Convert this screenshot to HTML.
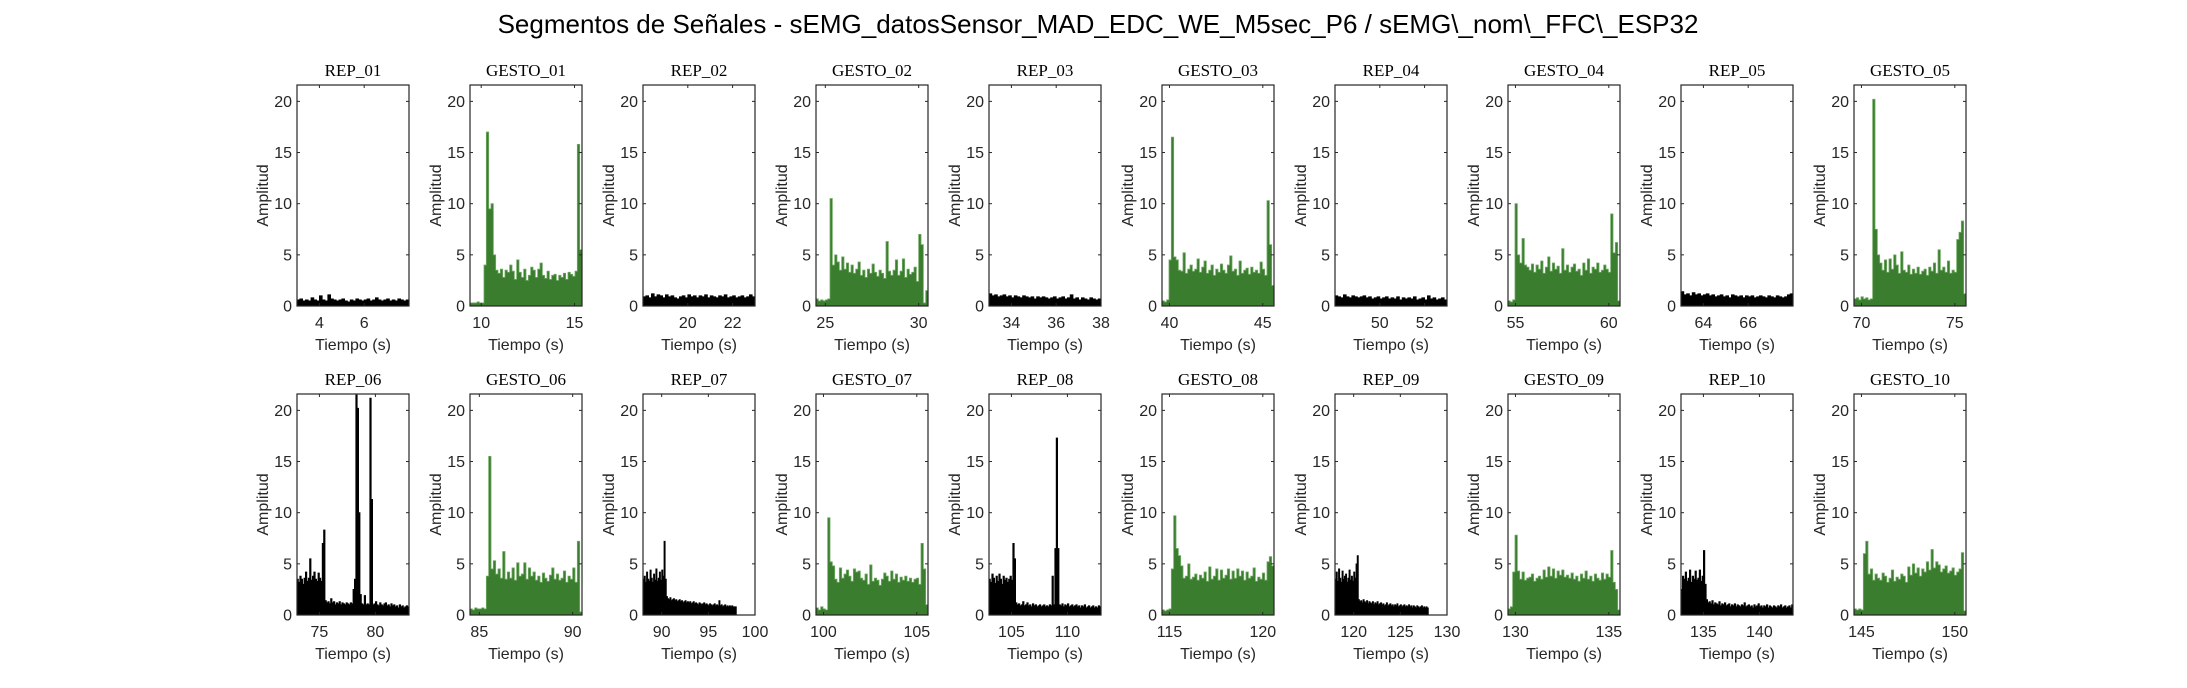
<!DOCTYPE html>
<html><head><meta charset="utf-8">
<style>
html,body{margin:0;padding:0;background:#fff;}
svg{display:block;font-family:"Liberation Sans",sans-serif;}
</style></head>
<body>
<svg id="chart" width="2187" height="688" viewBox="0 0 2187 688" xmlns="http://www.w3.org/2000/svg">
<rect width="2187" height="688" fill="#fff"/>
<text x="1098" y="33" font-size="26" text-anchor="middle" fill="#000">Segmentos de Señales - sEMG_datosSensor_MAD_EDC_WE_M5sec_P6 / sEMG\_nom\_FFC\_ESP32</text>
<g id="panels"></g>
</svg>
<script>
const titles = ["REP_01","GESTO_01","REP_02","GESTO_02","REP_03","GESTO_03","REP_04","GESTO_04","REP_05","GESTO_05",
"REP_06","GESTO_06","REP_07","GESTO_07","REP_08","GESTO_08","REP_09","GESTO_09","REP_10","GESTO_10"];
const xLimits = [[3,8],[9.4,15.4],[18,23],[24.5,30.5],[33,38],[39.6,45.6],[48,53],[54.6,60.6],[63,68],[69.6,75.6],
[73,83],[84.5,90.5],[88,100],[99.6,105.6],[103,113],[114.6,120.6],[118,130],[129.6,135.6],[133,143],[144.6,150.6]];
const dataSpans = [[3,8],[9.4,15.4],[18,23],[24.5,30.5],[33,38],[39.6,45.6],[48,53],[54.6,60.6],[63,68],[69.6,75.6],
[73,83],[84.5,90.5],[88,98],[99.6,105.6],[103,113],[114.6,120.6],[118,128],[129.6,135.6],[133,143],[144.6,150.6]];
const xTicks = [[4,6],[10,15],[20,22],[25,30],[34,36,38],[40,45],[50,52],[55,60],[64,66],[70,75],
[75,80],[85,90],[90,95,100],[100,105],[105,110],[115,120],[120,125,130],[130,135],[135,140],[145,150]];
const yTicks = [0,5,10,15,20];
const yMax = 21.6;

const rep01 = [0.6,0.7,0.5,0.6,0.5,0.8,0.6,0.5,1.0,0.6,0.5,1.1,0.7,0.6,0.5,0.6,0.7,0.5,0.4,0.6,0.5,0.7,0.6,0.5,0.6,0.7,0.5,0.6,0.8,0.6,0.5,0.6,0.7,0.5,0.6,0.5,0.7,0.6,0.5,0.6];
const gesto01 = [0.3,0.3,0.3,0.4,0.3,0.3,4,17,9.5,10,5,3.5,3.2,3.6,2.8,3.5,3.3,4,3.4,2.6,4.5,3.3,2.8,3.6,2.5,3,3.8,3.5,2.8,3.6,4.2,3,2.7,3.4,2.6,3,3.1,2.5,3,2.8,3.2,2.6,3.3,3.1,2.9,3.4,15.8,5.5];
const rep02 = [0.9,1.0,0.8,1.2,0.9,1.1,1.0,0.8,1.1,0.9,1.0,0.8,0.7,0.9,1.0,0.8,1.1,0.9,1.0,0.8,1.0,0.9,1.1,0.8,1.0,0.9,0.8,1.0,0.9,1.1,0.8,0.9,1.0,0.8,0.9,1.0,0.8,0.9,1.1,0.9];
const gesto02 = [0.7,0.5,0.6,0.5,0.6,0.7,10.5,4,5,4.3,3.5,4.8,3.6,4.2,3.3,4,3.2,3.6,4.3,3,3.5,2.8,3.6,3.2,4.1,3.3,2.9,3.5,3.2,2.7,6.3,3.4,3,3.5,4.5,3,3.4,4.6,2.8,3.6,3.1,3.3,3.8,2.4,7,6,0.3,1.5];
const rep03 = [1.2,1.0,1.1,0.9,1.0,1.1,0.9,1.0,0.8,1.0,0.9,0.8,1.0,0.9,0.8,0.9,0.7,0.9,0.8,0.9,0.8,0.7,0.8,0.9,0.7,0.8,0.9,0.7,0.8,1.1,0.7,0.8,0.6,0.8,0.7,0.6,0.8,0.7,0.6,0.7];
const gesto03 = [0.5,0.4,0.6,4.5,16.5,4.8,4.5,3.5,3.4,5.2,3.2,3.6,4,3.4,3.6,4.6,3.3,3.8,4.4,3.2,3.5,4,3,3.6,3.3,4.1,3.5,3.2,4,4.9,3.4,3.6,3,4.4,3.2,3.5,3.7,3.1,3.8,3.3,3.5,3.2,4.3,3.6,3,10.3,6,2];
const rep04 = [1.0,0.9,0.8,1.1,0.9,0.8,1.0,0.9,0.8,0.9,1.0,0.8,0.9,0.7,0.8,0.9,0.7,0.8,0.9,0.7,0.8,0.7,0.9,0.6,0.8,0.7,0.8,0.7,0.9,0.6,0.7,0.8,0.6,1.0,0.7,0.8,0.6,0.7,0.8,0.6];
const gesto04 = [0.5,0.4,0.6,10,5,4.2,6.6,4,3.8,3.5,4.1,3.3,4,3.6,4.4,3.2,3.8,4.8,3.4,4.2,3.6,3.9,3.2,5.6,3.5,4,3.3,3.8,4.1,3.4,3.6,3,4.2,3.5,4.6,3.2,3.8,3.6,4.2,3.3,3.5,4,3.6,3.3,9,5.2,6.2,0.5];
const rep05 = [1.4,1.1,1.2,1.0,1.3,1.1,1.2,1.0,1.1,1.2,1.0,1.1,0.9,1.0,1.1,0.9,1.0,0.8,1.1,1.0,0.9,1.0,0.8,1.0,0.9,1.0,0.8,0.9,1.0,0.9,0.8,1.0,0.9,0.8,1.0,0.9,0.8,0.9,1.1,1.2];
const gesto05 = [0.7,0.8,0.6,0.9,0.7,0.8,0.6,0.7,20.2,7.5,5,4.2,3.5,4.5,3.3,4.6,3.6,5,4,3.2,5.3,3.5,3.3,4,3.1,3.6,3.2,3.8,3.1,3.4,3.6,3,3.8,3.4,4.2,3.2,5.5,3.5,3.8,3.3,4.4,3.2,3.5,3.3,6.5,7.2,8.3,1.2];
const rep06 = [3.5,3.2,3.8,3.5,3,3.6,4.2,3.3,3.6,5.5,3.4,3.8,4.2,3.5,3.3,4.1,3.6,3.3,7,8.3,1.4,1.2,1.3,1.1,1.6,1.2,1.3,1.0,1.2,1.1,1.3,1.0,1.2,1.1,1.0,1.2,1.1,1.0,1.2,1.1,2.5,3.5,21.5,20.2,10,2,1.1,1.0,1.9,1.0,1.1,1.0,21.2,11.3,1.0,1.1,1.3,1.0,0.9,1.2,1.0,0.9,1.1,1.2,0.9,1.0,0.8,1.1,0.9,1.0,0.8,0.9,0.7,1.0,0.8,0.9,0.7,0.8,0.9,0.8];
const gesto06 = [0.6,0.5,0.7,0.6,0.6,0.7,0.6,3.8,15.5,4.5,5.3,4,4.5,3.6,6.2,3.5,4.2,3.6,4.6,3.4,5.1,3.8,4,5.1,3.5,4.6,3.8,4.2,3.4,3.8,3.2,4.1,3.6,3.3,3.9,4.6,3.5,4,3.4,3.6,4.3,3.2,3.8,3.5,4.6,3.2,7.2,0.3];
const rep07 = [3.5,3.8,3.2,4.2,3.5,3.3,4.4,3.6,3.2,4,3.4,4.5,3.3,3.6,4.2,3.4,4.4,3.8,7.2,3.5,1.8,1.6,1.5,1.7,1.4,1.5,1.6,1.4,1.5,1.3,1.4,1.5,1.3,1.4,1.2,1.3,1.4,1.2,1.3,1.2,1.3,1.1,1.2,1.3,1.1,1.2,1.1,1.0,1.2,1.1,1.0,1.1,1.2,1.0,1.1,1.0,0.9,1.1,1.0,0.9,1.0,1.1,0.9,1.0,0.9,1.4,0.9,1.0,0.8,0.9,1.0,0.8,0.9,0.8,0.9,0.8,0.9,0.8,0.8,0.8];
const gesto07 = [0.7,0.5,0.8,0.6,0.5,9.5,5.2,4.8,3.5,3.2,4.6,3.6,4,4.4,3.8,3.3,4.5,4.2,4.3,3.6,3.4,4,3,4.9,3.3,3.6,3.4,2.9,3.5,4.1,3.8,3.3,4.3,3.5,4,3.2,3.7,3.4,3.8,3.3,3.6,3.2,3.5,3.6,3,7,4.5,1];
const rep08 = [3.5,3.2,4,3.6,3.1,3.8,3.3,4,3.5,3,3.8,3.4,3.6,3.2,3.5,3.8,3.4,7,5.5,1.2,1.0,1.1,0.9,1.0,1.3,0.9,1.0,1.2,0.9,1.0,0.8,1.1,0.9,1.0,0.8,0.9,1.0,0.8,0.9,1.0,0.8,0.9,0.8,1.0,0.9,3.8,1.0,6.5,17.3,6.5,1.0,0.9,1.1,0.8,1.0,0.9,1.1,0.8,0.9,1.0,0.8,0.9,1.0,0.8,0.9,0.7,0.9,0.8,1.0,0.7,0.8,0.9,0.7,0.8,0.9,0.7,0.8,0.7,0.9,0.8];
const gesto08 = [0.5,0.4,0.5,0.6,4.5,9.7,6.5,5.8,4.8,3.6,3.8,5,3.5,3.7,4,3.4,3.9,3.6,4.2,3.3,4.7,3.5,3.8,4.5,3.4,4.4,3.6,3.9,4.5,3.5,4.3,3.6,4.5,3.8,4.3,3.4,4.2,3.6,3.8,4.6,3.3,3.7,3.5,4.1,3.4,5.2,5.7,4.8];
const rep09 = [3.5,4.2,3.3,4.5,3.6,3.2,4.3,3.5,3.8,4,3.2,3.6,4.4,3.4,3.8,3.3,4.2,3.6,5,5.8,1.5,1.3,1.4,1.2,1.5,1.3,1.2,1.4,1.1,1.3,1.2,1.1,1.3,1.0,1.2,1.1,1.3,1.0,1.1,1.2,1.0,1.1,0.9,1.0,1.2,0.9,1.0,1.1,0.9,1.0,0.8,1.0,0.9,1.1,0.8,0.9,1.0,0.8,0.9,1.0,0.8,0.9,0.8,1.0,0.8,0.9,0.7,0.9,0.8,0.7,0.9,0.8,0.7,0.8,0.9,0.7,0.8,0.7,0.8,0.7];
const gesto09 = [0.6,0.8,4.2,7.8,4.3,3.5,4.2,3.4,3.6,3.7,4,3.3,3.6,3.8,3.5,4.4,3.7,4.7,3.8,4.5,3.6,4.3,3.9,4.4,3.7,3.9,3.6,4.1,3.5,3.8,3.3,4,3.6,4.3,3.5,3.8,3.3,4,3.6,3.4,4.1,3.5,4,3.7,6.3,3.2,2.5,0.5];
const rep10 = [2.5,3.8,3.5,4.2,3.3,3.6,4.4,3.2,3.8,3.5,4.3,3.4,3.6,4.4,3.3,3.8,6.3,3,1.5,1.2,1.3,1.1,1.4,1.0,1.2,1.1,1.0,1.3,0.9,1.1,1.0,1.2,0.9,1.0,1.1,0.8,1.0,0.9,1.1,0.8,1.0,0.9,0.8,1.0,0.9,1.2,0.8,0.9,1.0,0.8,0.9,0.7,1.0,0.8,0.9,1.1,0.8,0.9,0.7,0.9,0.8,1.0,0.7,0.9,0.8,0.7,0.9,0.8,0.7,0.9,0.8,1.0,0.7,0.8,0.9,0.7,0.8,0.9,0.7,1.0];
const gesto10 = [0.6,0.5,0.6,0.5,6,7.2,4,4.5,3.4,4,3.6,3.4,4.1,3.8,3.2,3.6,4.4,3.3,3.7,3.5,4,3.8,3.2,4.7,3.9,5,4.1,4.6,3.8,4.5,4.2,5.2,4.4,6.4,4.6,5.2,4.9,4.2,4.5,4.8,4.1,4.3,4.6,3.9,4.2,4.5,6.1,0.4];
const series = [rep01,gesto01,rep02,gesto02,rep03,gesto03,rep04,gesto04,rep05,gesto05,
rep06,gesto06,rep07,gesto07,rep08,gesto08,rep09,gesto09,rep10,gesto10];

const NS="http://www.w3.org/2000/svg";
const root=document.getElementById('panels');
function mk(tag,attrs,parent){const e=document.createElementNS(NS,tag);for(const k in attrs)e.setAttribute(k,attrs[k]);parent.appendChild(e);return e;}
const W=112,H=221,lefts=[297,470,643,816,989,1162,1335,1508,1681,1854],tops=[85,394];
titles.forEach((t,i)=>{
  const L=lefts[i%10],T=tops[Math.floor(i/10)],B=T+H;
  const g=mk('g',{},root);
  
  
  const [x0,x1]=xLimits[i];
  const sx=v=>L+(v-x0)/(x1-x0)*W;
  const sy=v=>B-v/yMax*H;
  const isG=t.startsWith('G');
  // data area
  const d=series[i],[d0,d1]=dataSpans[i],dt=(d1-d0)/d.length;
  let p='M'+sx(d0).toFixed(2)+','+B;
  d.forEach((v,k)=>{const xa=sx(d0+k*dt),xb=sx(d0+(k+1)*dt);p+=' L'+xa.toFixed(2)+','+sy(v).toFixed(2)+' L'+xb.toFixed(2)+','+sy(v).toFixed(2);});
  p+=' L'+sx(d1).toFixed(2)+','+B+' Z';
  const area=mk('path',{d:p,fill:isG?'#3a7d2e':'#000',stroke:isG?'#6ea862':'#000','stroke-width':'0.8'},g);
  
  
  // box
  const box=mk('rect',{x:L,y:T,width:W,height:H,fill:'none',stroke:'#262626','stroke-width':'1.2'},g);
  
  
  // y ticks
  yTicks.forEach(v=>{
    const y=sy(v);
    mk('line',{x1:L,x2:L+3,y1:y,y2:y,stroke:'#262626'},g);
    mk('line',{x1:L+W-3,x2:L+W,y1:y,y2:y,stroke:'#262626'},g);
    const tl=mk('text',{x:L-5,y:y+5.5,'font-size':'16','text-anchor':'end',fill:'#262626'},g);
    tl.textContent=v;
    
    
  });
  xTicks[i].forEach(v=>{
    const x=sx(v);
    mk('line',{x1:x,x2:x,y1:B,y2:B-3,stroke:'#262626'},g);
    mk('line',{x1:x,x2:x,y1:T,y2:T+3,stroke:'#262626'},g);
    const tl=mk('text',{x:x,y:B+22,'font-size':'16','text-anchor':'middle',fill:'#262626'},g);
    tl.textContent=v;
    
    
  });
  const xl=mk('text',{x:L+W/2,y:B+44,'font-size':'16','text-anchor':'middle',fill:'#262626'},g);
  xl.textContent='Tiempo (s)';
  
  
  const yl=mk('text',{x:0,y:0,'font-size':'16','text-anchor':'middle',fill:'#262626',transform:'translate('+(L-29)+','+(T+H/2)+') rotate(-90)'},g);
  yl.textContent='Amplitud';
  
  
  const ti=mk('text',{x:L+W/2,y:T-9,'font-size':'17','text-anchor':'middle',fill:'#000','font-family':'Liberation Serif, serif'},g);
  ti.textContent=t;
  
  
});
</script>
</body></html>
